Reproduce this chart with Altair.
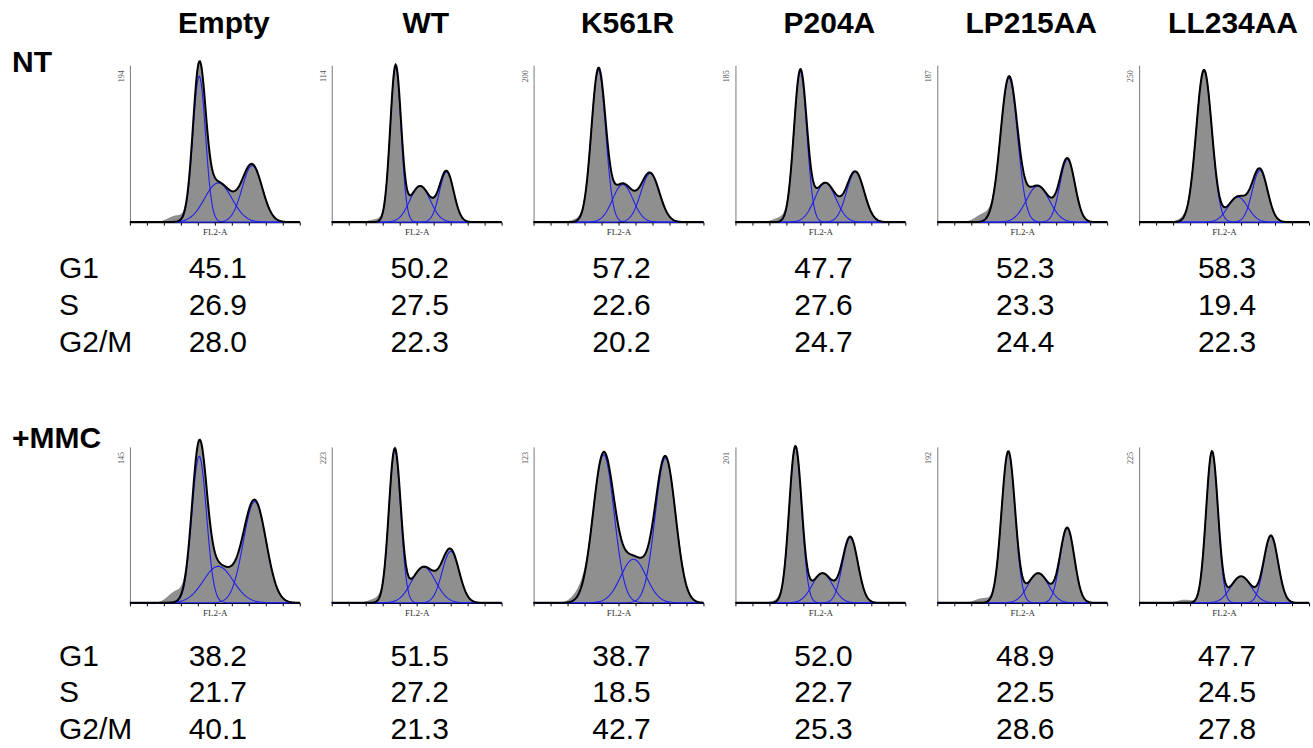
import altair as alt
import numpy as np
import pandas as pd

SAMPLES = ["Empty", "WT", "K561R", "P204A", "LP215AA", "LL234AA"]
CONDITIONS = ["NT", "+MMC"]
PHASES = ["G1", "S", "G2/M"]

# Cell-cycle percentages (text under each histogram)
NT_G1 = ["45.1", "50.2", "57.2", "47.7", "52.3", "58.3"]
NT_S = ["26.9", "27.5", "22.6", "27.6", "23.3", "19.4"]
NT_G2M = ["28.0", "22.3", "20.2", "24.7", "24.4", "22.3"]
MMC_G1 = ["38.2", "51.5", "38.7", "52.0", "48.9", "47.7"]
MMC_S = ["21.7", "27.2", "18.5", "22.7", "22.5", "24.5"]
MMC_G2M = ["40.1", "21.3", "42.7", "25.3", "28.6", "27.8"]

# Y-axis maximum counts printed on each histogram
NT_YMAX = [194, 114, 200, 185, 187, 250]
MMC_YMAX = [145, 223, 123, 201, 192, 225]

# Fitted components:
# position on FL2-A (0-1000), peak height (fraction of y max), width (sd)
NT_G1_POS = [408, 376, 382, 382, 422, 382]
NT_G1_H = [0.93, 0.99, 0.97, 0.96, 0.92, 0.97]
NT_G1_SD = [37, 32, 42, 38, 50, 46]
NT_S_POS = [520, 520, 525, 529, 592, 581]
NT_S_H = [0.25, 0.23, 0.24, 0.25, 0.23, 0.16]
NT_S_SD = [80, 60, 60, 62, 68, 58]
NT_G2_POS = [720, 676, 686, 706, 766, 711]
NT_G2_H = [0.36, 0.32, 0.31, 0.32, 0.40, 0.33]
NT_G2_SD = [59, 42, 55, 52, 44, 45]
NT_DEBRIS = [0.04, 0.02, 0.02, 0.03, 0.05, 0.02]

MMC_G1_POS = [408, 371, 412, 353, 418, 429]
MMC_G1_H = [0.94, 0.98, 0.95, 1.00, 0.97, 0.97]
MMC_G1_SD = [43, 35, 62, 37, 40, 35]
MMC_S_POS = [520, 541, 588, 512, 594, 600]
MMC_S_H = [0.234, 0.23, 0.28, 0.19, 0.19, 0.17]
MMC_S_SD = [88, 70, 75, 60, 60, 60]
MMC_G2_POS = [735, 700, 776, 676, 765, 776]
MMC_G2_H = [0.65, 0.33, 0.93, 0.42, 0.48, 0.43]
MMC_G2_SD = [67, 50, 60, 45, 42, 42]
MMC_DEBRIS = [0.07, 0.03, 0.05, 0.02, 0.03, 0.02]

FONT = "Liberation Sans"
SERIF = "Liberation Serif"
GRAY = "#8f8f8f"
BLUE = "#1f1fee"

PANEL_W = 170
HIST_H = [157, 156]
LABEL_W = 93
XGRID = np.arange(0, 1001, 4)


def gauss(pos, h, sd):
    return h * np.exp(-0.5 * ((XGRID - pos) / sd) ** 2)


def hist_panel(ymax, g1, s, g2, debris, height):
    c1 = gauss(*g1)
    c2 = gauss(*s)
    c3 = gauss(*g2)
    deb = gauss(270, debris, 45)
    fit = c1 + c2 + c3
    df = pd.DataFrame({
        "x": XGRID,
        "hist": (fit + deb) * ymax,
        "fit": fit * ymax,
        "g1": c1 * ymax,
        "s": c2 * ymax,
        "g2": c3 * ymax,
    })
    xaxis = alt.Axis(values=list(range(0, 1001, 100)), labels=False, ticks=True,
                     tickSize=3, tickColor="black", tickWidth=1,
                     domainColor="black", domainWidth=1.5, grid=False,
                     title="FL2-A", titleFont=SERIF, titleFontSize=9,
                     titleFontWeight="normal", titlePadding=2, titleColor="#333333")
    yaxis = alt.Axis(labels=False, ticks=False, grid=False, title=None,
                     domainColor="#777777", domainWidth=1)
    xs = alt.Scale(domain=[0, 1000], nice=False)
    ys = alt.Scale(domain=[0, ymax], nice=False)
    base = alt.Chart(df)
    area = base.mark_area(color=GRAY, opacity=1).encode(
        x=alt.X("x:Q", scale=xs, axis=xaxis),
        y=alt.Y("hist:Q", scale=ys, axis=yaxis),
    )
    comps = base.transform_fold(["g1", "s", "g2"], as_=["comp", "val"]).mark_line(
        color=BLUE, strokeWidth=1.1
    ).encode(
        x=alt.X("x:Q", scale=xs, axis=xaxis),
        y=alt.Y("val:Q", scale=ys, axis=yaxis),
        detail="comp:N",
    )
    black = base.mark_line(color="black", strokeWidth=2).encode(
        x=alt.X("x:Q", scale=xs, axis=xaxis),
        y=alt.Y("fit:Q", scale=ys, axis=yaxis),
    )
    lab = alt.Chart(pd.DataFrame({"lab": [str(ymax)]})).mark_text(
        angle=270, font=SERIF, fontSize=8, color="#555555",
        align="center", baseline="middle"
    ).encode(x=alt.value(-8), y=alt.value(11), text="lab:N")
    return alt.layer(area, comps, black, lab).properties(width=PANEL_W, height=height)


def value_cell(vals, height, y0, y1, width=PANEL_W, xpos=88, align="center"):
    df = pd.DataFrame({"phase": PHASES, "val": vals})
    return alt.Chart(df).mark_text(
        font=FONT, fontSize=30, align=align, baseline="alphabetic", color="black"
    ).encode(
        x=alt.value(xpos),
        y=alt.Y("phase:N", scale=alt.Scale(type="point", domain=PHASES,
                                            range=[y0, y1], padding=0), axis=None),
        text="val:N",
    ).properties(width=width, height=height)


def word_cell(word, width, height, xpos, ypos, align):
    return alt.Chart(pd.DataFrame({"t": [word]})).mark_text(
        font=FONT, fontSize=30, fontWeight="bold", align=align,
        baseline="alphabetic", color="black"
    ).encode(x=alt.value(xpos), y=alt.value(ypos), text="t:N").properties(
        width=width, height=height)


cells = []
# Row 0: headers
cells.append(word_cell("", LABEL_W, 60, 10, 40, "left"))
for name in SAMPLES:
    cells.append(word_cell(name, PANEL_W, 60, 94, 28, "center"))

# Row 1: NT histograms
cells.append(word_cell("NT", LABEL_W, HIST_H[0], 7, 7, "left"))
for i in range(6):
    cells.append(hist_panel(NT_YMAX[i],
                            (NT_G1_POS[i], NT_G1_H[i], NT_G1_SD[i]),
                            (NT_S_POS[i], NT_S_H[i], NT_S_SD[i]),
                            (NT_G2_POS[i], NT_G2_H[i], NT_G2_SD[i]),
                            NT_DEBRIS[i], HIST_H[0]))

# Row 2: NT values
cells.append(value_cell(PHASES, 225, 56, 130, width=LABEL_W, xpos=54, align="left"))
for i in range(6):
    cells.append(value_cell([NT_G1[i], NT_S[i], NT_G2M[i]], 225, 56, 130))

# Row 3: MMC histograms
cells.append(word_cell("+MMC", LABEL_W, HIST_H[1], 7, 1, "left"))
for i in range(6):
    cells.append(hist_panel(MMC_YMAX[i],
                            (MMC_G1_POS[i], MMC_G1_H[i], MMC_G1_SD[i]),
                            (MMC_S_POS[i], MMC_S_H[i], MMC_S_SD[i]),
                            (MMC_G2_POS[i], MMC_G2_H[i], MMC_G2_SD[i]),
                            MMC_DEBRIS[i], HIST_H[1]))

# Row 4: MMC values
cells.append(value_cell(PHASES, 138, 63, 136, width=LABEL_W, xpos=54, align="left"))
for i in range(6):
    cells.append(value_cell([MMC_G1[i], MMC_S[i], MMC_G2M[i]], 138, 63, 136))

chart = alt.concat(
    *cells, columns=7,
    spacing={"row": 0, "column": 32},
    bounds="flush", align="each",
    padding={"left": 5, "top": 5, "right": 0, "bottom": 0},
    background="white",
).configure_view(stroke="transparent", strokeWidth=0)

chart.save("out.html", embed_options={"renderer": "svg", "actions": False})
